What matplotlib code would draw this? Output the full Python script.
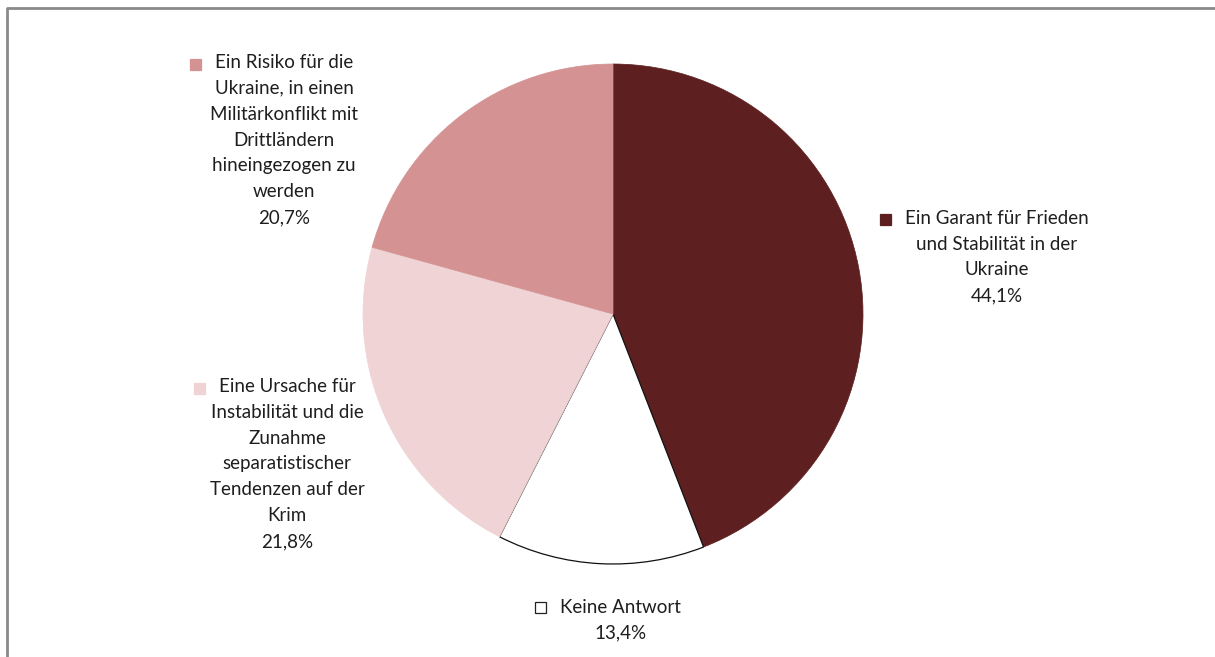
import matplotlib.pyplot as plt
from matplotlib.patches import Rectangle

# survey answers, clockwise from 12 o'clock
labels = [
    "Ein Garant für Frieden\nund Stabilität in der\nUkraine",
    "Keine Antwort",
    "Eine Ursache für\nInstabilität und die\nZunahme\nseparatistischer\nTendenzen auf der\nKrim",
    "Ein Risiko für die\nUkraine, in einen\nMilitärkonflikt mit\nDrittländern\nhineingezogen zu\nwerden",
]
shares = [44.1, 13.4, 21.8, 20.7]
colors = ["#5d1f1f", "#ffffff", "#efd3d5", "#d49292"]

# label anchors (pixel coords, y from top) - center of the text block
label_pos = [(997, 257), (620, 620), (287, 464), (284, 140)]

W, H = 1215, 657
fig = plt.figure(figsize=(W / 100, H / 100), dpi=100)
ax = fig.add_axes([0, 0, 1, 1])

wedges, _ = ax.pie(shares, colors=colors, startangle=90, counterclock=False,
                   center=(613, H - 314), radius=250, frame=True)
for w, c in zip(wedges, colors):
    if c == "#ffffff":
        w.set_edgecolor("#111111")
        w.set_linewidth(0.9)
    else:
        w.set_edgecolor(c)
        w.set_linewidth(0.5)
ax.set_xlim(0, W)
ax.set_ylim(0, H)
ax.set_aspect("equal")
ax.axis("off")

# outer frame (only top and left edges show)
ax.plot([7, 7, W + 5], [-5, H - 8, H - 8], color="#8a8a8a", lw=2, clip_on=False)

font = dict(family=["Lato", "DejaVu Sans"], fontsize=13.5, color="#1e1e1e")
fig.canvas.draw()
renderer = fig.canvas.get_renderer()
for lab, val, col, (px, py) in zip(labels, shares, colors, label_pos):
    txt = lab + "\n" + f"{val:.1f}%".replace(".", ",")
    lines = txt.split("\n")
    t = ax.text(px, H - py, txt, ha="center", va="center",
                linespacing=1.64, **font)
    bb = t.get_window_extent(renderer)
    # width of first line to place the colour key in front of it
    tmp = ax.text(0, 0, lines[0], **font)
    w1 = tmp.get_window_extent(renderer).width
    tmp.remove()
    line_h = bb.height / len(lines)
    x0 = px - w1 / 2 - 25
    y0 = bb.y1 - line_h / 2 - 4
    ax.add_patch(Rectangle((x0, y0), 11, 11, facecolor=col,
                           edgecolor="#222222" if col == "#ffffff" else col,
                           lw=0.9))

fig.savefig("out.png", dpi=100)
